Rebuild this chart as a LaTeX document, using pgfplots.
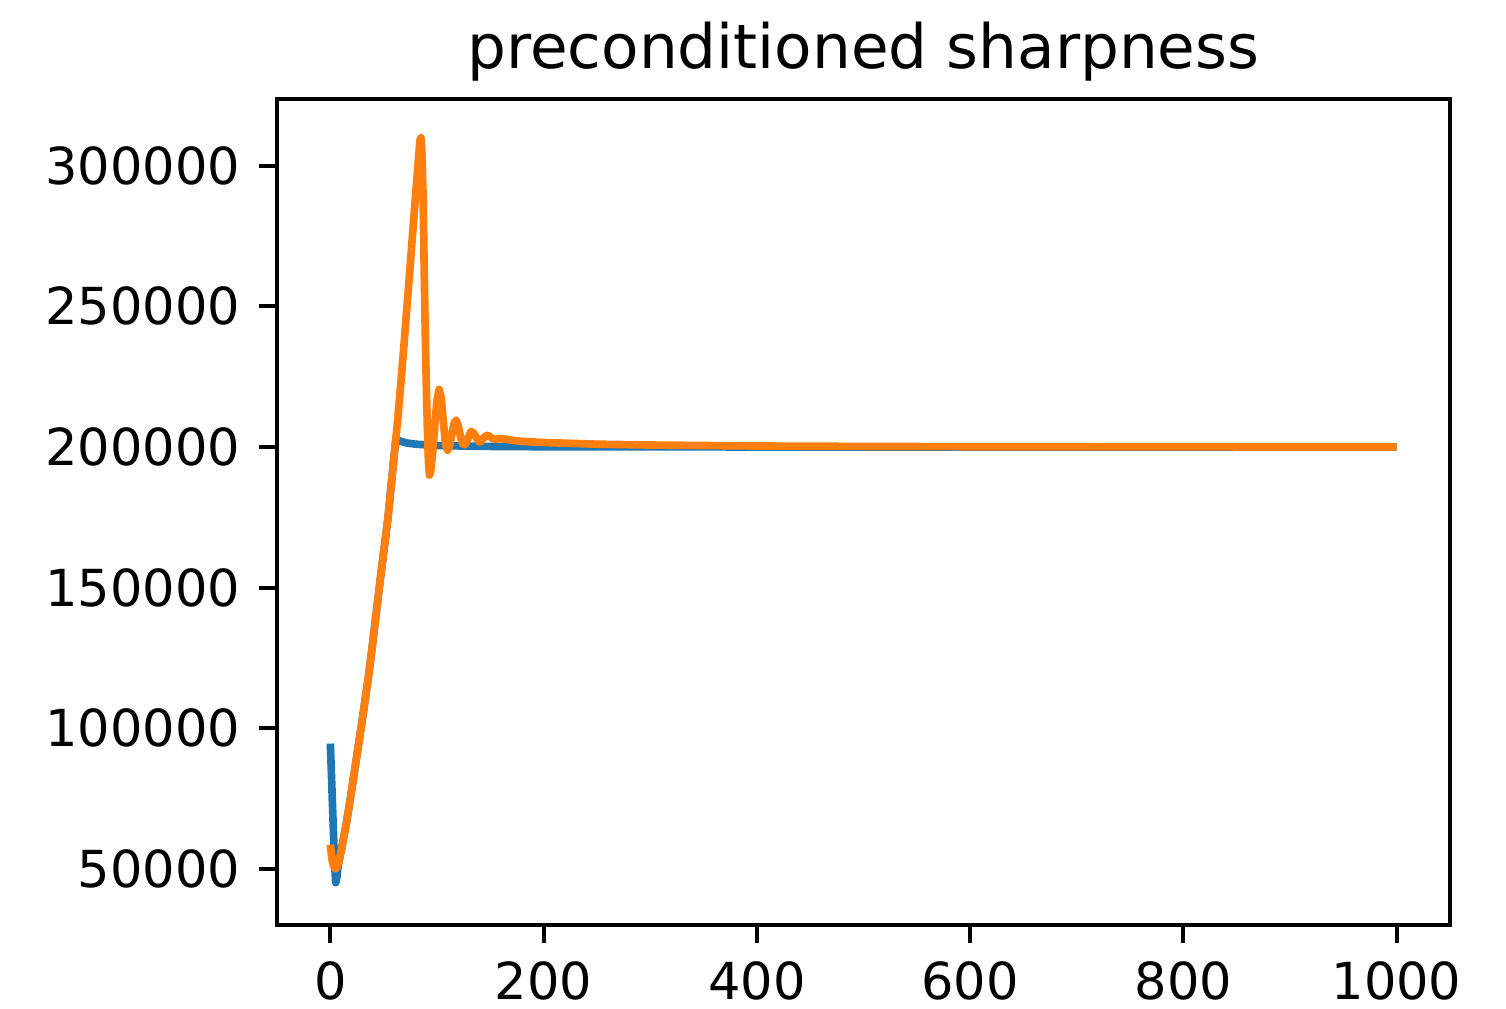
\documentclass[border=0pt]{standalone}
\usepackage{fontspec}
\setmainfont{DejaVu Sans}
\usepackage{pgfplots}
\pgfplotsset{compat=1.18}
\definecolor{mplblue}{HTML}{1F77B4}
\definecolor{mplorange}{HTML}{FF7F0E}
\pgfplotstableread{
x y
0 94500
1 84000
2 73000
3 62000
4 52000
5 45000
6 46500
7 50000
8 52500
10 56000
12 60000
15 66000
18 73000
21 80500
24 88000
27 95500
30 103000
33 111000
36 119000
39 128000
42 137500
45 147000
48 156500
51 165500
54 174500
57 186000
60 197500
61 201300
62 202600
64 202300
67 201900
72 201400
80 201000
100 200500
150 200200
200 200080
300 200030
500 200010
1000 200000
}\bluedata
\pgfplotstableread{
x y
0 58500
1 55000
2 52500
3 51000
4 50200
5 50000
6 50300
8 52500
10 56000
12 60000
15 66000
18 73000
21 80500
24 88000
27 95500
30 103000
33 111000
36 119000
39 128000
42 137500
45 147000
48 156500
51 165500
54 174500
57 186000
60 197500
61 201300
63 209000
66 222000
69 236000
72 250500
75 265000
78 280000
81 294500
83 304000
84 309000
85 310000
86 304500
87 289000
88 264000
89 241000
90 222000
91 207000
92 195000
93 190000
94 191000
96 198000
98 208000
100 216500
102 220500
104 217500
106 209000
108 201000
110 198800
112 200500
114 204500
116 208500
118 209500
120 207500
122 203800
124 201200
126 200800
128 201800
130 204000
132 205500
134 205200
136 204000
138 202500
140 201800
142 202200
144 203300
146 204000
148 204100
150 203600
152 203000
155 202700
158 203000
162 202900
170 202400
180 202000
200 201600
250 201000
300 200700
400 200350
500 200200
600 200100
800 200030
1000 200000
}\orangedata
\begin{document}
\begin{tikzpicture}
\begin{axis}[
  scale only axis,
  width=229.9pt, height=161.9pt,
  xmin=-50, xmax=1050, ymin=30000, ymax=323800,
  axis line style={line width=0.8pt, black},
  tick align=outside,
  tick style={line width=0.8pt, black},
  major tick length=3.5pt,
  xtick={0,200,400,600,800,1000},
  ytick={50000,100000,150000,200000,250000,300000},
  scaled y ticks=false,
  scaled x ticks=false,
  xtick pos=bottom, ytick pos=left,
  /pgf/number format/assume math mode=true,
  /pgf/number format/1000 sep={},
  /pgf/number format/fixed,
  ticklabel style={font=\fontsize{10}{12}\selectfont, inner sep=0pt},
  xticklabel style={yshift=-3.5pt},
  yticklabel style={xshift=-3.5pt},
  title={preconditioned sharpness},
  title style={font=\fontsize{12}{14.4}\selectfont, anchor=base, at={(0.5,1)}, yshift=0pt, inner sep=0pt},
]
\addplot[mplblue, line width=1.5pt, line join=round] table[x=x,y=y] {\bluedata};
\addplot[mplorange, line width=1.5pt, line join=round] table[x=x,y=y] {\orangedata};
\end{axis}
\pgfresetboundingbox
\useasboundingbox (-54.3pt,-16.3pt) rectangle (240.9pt,181.3pt);
\end{tikzpicture}
\end{document}
